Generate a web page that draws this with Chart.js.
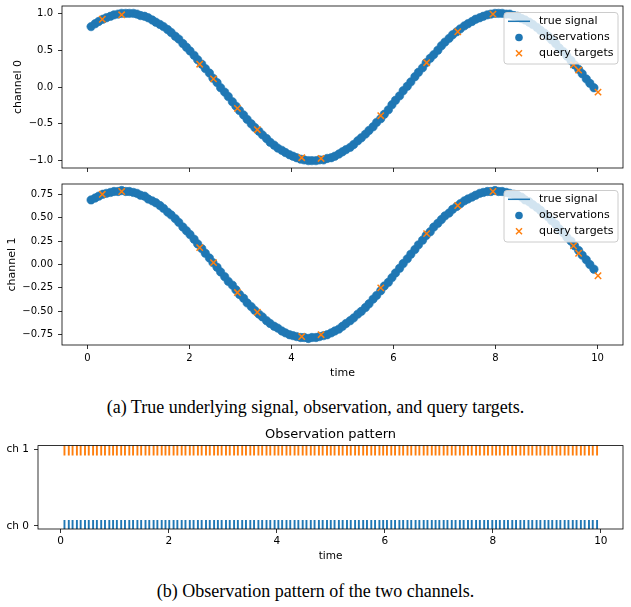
<!DOCTYPE html>
<html>
<head>
<meta charset="utf-8">
<script src="https://cdn.jsdelivr.net/npm/chart.js@4.4.0/dist/chart.umd.min.js"></script>
<style>
  html, body { margin: 0; padding: 0; background: #fff; }
  body { width: 631px; height: 607px; position: relative; overflow: hidden; }
  canvas { position: absolute; left: 0; }
  .cap {
    position: absolute; left: 0; width: 631px; text-align: center;
    font-family: 'Liberation Serif', 'Times New Roman', serif;
    font-size: 18px; line-height: 20px; color: #000;
  }
</style>
</head>
<body>
<canvas id="ch0" width="631" height="175" style="top:0px"></canvas>
<canvas id="ch1" width="631" height="210" style="top:175px"></canvas>
<div class="cap" style="top:397px">(a) True underlying signal, observation, and query targets.</div>
<canvas id="pattern" width="631" height="150" style="top:415px"></canvas>
<div class="cap" style="top:581px">(b) Observation pattern of the two channels.</div>

<script>
'use strict';

//***********Data***********
let obsTimes = [
  0.07, 0.15, 0.22, 0.30, 0.37, 0.45, 0.52, 0.60, 0.67, 0.75,
  0.82, 0.90, 0.97, 1.04, 1.12, 1.19, 1.27, 1.34, 1.42, 1.49,
  1.57, 1.64, 1.72, 1.79, 1.87, 1.94, 2.01, 2.09, 2.16, 2.24,
  2.31, 2.39, 2.46, 2.54, 2.61, 2.69, 2.76, 2.84, 2.91, 2.98,
  3.06, 3.13, 3.21, 3.28, 3.36, 3.43, 3.51, 3.58, 3.66, 3.73,
  3.81, 3.88, 3.96, 4.03, 4.10, 4.18, 4.25, 4.33, 4.40, 4.48,
  4.55, 4.63, 4.70, 4.78, 4.85, 4.93, 5.00, 5.07, 5.15, 5.22,
  5.30, 5.37, 5.45, 5.52, 5.60, 5.67, 5.75, 5.82, 5.90, 5.97,
  6.04, 6.12, 6.19, 6.27, 6.34, 6.42, 6.49, 6.57, 6.64, 6.72,
  6.79, 6.87, 6.94, 7.01, 7.09, 7.16, 7.24, 7.31, 7.39, 7.46,
  7.54, 7.61, 7.69, 7.76, 7.84, 7.91, 7.99, 8.06, 8.13, 8.21,
  8.28, 8.36, 8.43, 8.51, 8.58, 8.66, 8.73, 8.81, 8.88, 8.96,
  9.03, 9.10, 9.18, 9.25, 9.33, 9.40, 9.48, 9.55, 9.63, 9.70,
  9.78, 9.85, 9.93
];
let ch0Values = [
  0.82, 0.86, 0.89, 0.92, 0.94, 0.96, 0.98, 0.99, 1.00, 1.00,
  1.00, 1.00, 0.99, 0.97, 0.96, 0.94, 0.91, 0.88, 0.85, 0.82,
  0.78, 0.74, 0.69, 0.65, 0.59, 0.54, 0.49, 0.43, 0.37, 0.31,
  0.25, 0.19, 0.12, 0.06, -0.01, -0.07, -0.13, -0.20, -0.26, -0.32,
  -0.38, -0.44, -0.50, -0.55, -0.60, -0.65, -0.70, -0.75, -0.79, -0.83,
  -0.86, -0.89, -0.92, -0.94, -0.96, -0.98, -0.99, -1.00, -1.00, -1.00,
  -0.99, -0.99, -0.97, -0.96, -0.94, -0.91, -0.88, -0.85, -0.82, -0.78,
  -0.73, -0.69, -0.64, -0.59, -0.54, -0.48, -0.43, -0.37, -0.31, -0.24,
  -0.18, -0.12, -0.05, 0.01, 0.07, 0.14, 0.20, 0.26, 0.33, 0.39,
  0.44, 0.50, 0.56, 0.61, 0.66, 0.71, 0.75, 0.79, 0.83, 0.86,
  0.89, 0.92, 0.94, 0.96, 0.98, 0.99, 1.00, 1.00, 1.00, 0.99,
  0.99, 0.97, 0.96, 0.93, 0.91, 0.88, 0.85, 0.81, 0.77, 0.73,
  0.69, 0.64, 0.59, 0.53, 0.48, 0.42, 0.36, 0.30, 0.24, 0.18,
  0.11, 0.05, -0.01
];
let ch1Values = [
  0.69, 0.71, 0.73, 0.75, 0.76, 0.77, 0.78, 0.78, 0.79, 0.78,
  0.78, 0.77, 0.76, 0.74, 0.73, 0.70, 0.68, 0.66, 0.63, 0.60,
  0.56, 0.53, 0.49, 0.45, 0.40, 0.36, 0.32, 0.27, 0.22, 0.17,
  0.12, 0.07, 0.02, -0.03, -0.08, -0.13, -0.18, -0.22, -0.27, -0.32,
  -0.36, -0.41, -0.45, -0.49, -0.53, -0.56, -0.60, -0.63, -0.66, -0.68,
  -0.71, -0.73, -0.75, -0.76, -0.77, -0.78, -0.78, -0.79, -0.78, -0.78,
  -0.77, -0.76, -0.75, -0.73, -0.71, -0.69, -0.66, -0.63, -0.60, -0.57,
  -0.53, -0.50, -0.46, -0.42, -0.37, -0.33, -0.28, -0.23, -0.19, -0.14,
  -0.09, -0.04, 0.01, 0.06, 0.11, 0.16, 0.21, 0.26, 0.31, 0.35,
  0.40, 0.44, 0.48, 0.52, 0.55, 0.59, 0.62, 0.65, 0.68, 0.70,
  0.72, 0.74, 0.76, 0.77, 0.78, 0.78, 0.79, 0.78, 0.78, 0.77,
  0.76, 0.75, 0.74, 0.72, 0.69, 0.67, 0.64, 0.61, 0.58, 0.54,
  0.51, 0.47, 0.43, 0.38, 0.34, 0.29, 0.25, 0.20, 0.15, 0.10,
  0.05, 0.00, -0.05
];
let queryTimes = [0.29, 0.67, 2.20, 2.47, 2.94, 3.33, 4.20, 4.58, 5.75, 6.65, 7.26, 7.95, 9.53, 9.63, 10.01];
let query0Values = [0.92, 0.98, 0.31, 0.11, -0.29, -0.58, -0.96, -0.97, -0.39, 0.33, 0.75, 0.99, 0.30, 0.23, -0.07];
let query1Values = [0.75, 0.78, 0.18, 0.02, -0.30, -0.51, -0.77, -0.75, -0.25, 0.33, 0.63, 0.78, 0.20, 0.12, -0.12];

let legendLabels = ['true signal', 'observations', 'query targets'];
let xTicks = [0, 2, 4, 6, 8, 10];
let yTicks0 = [-1.0, -0.5, 0.0, 0.5, 1.0];
let yTicks1 = [-0.75, -0.5, -0.25, 0.0, 0.25, 0.5, 0.75];
let channelRows = [0, 1];
let channelLabels = ['ch 0', 'ch 1'];

//***********Styles***********
const BLUE = '#1f77b4';
const ORANGE = '#ff7f0e';
const FONT = "'DejaVu Sans', sans-serif";

//***********Helpers***********
function minusSign(text) {
  return text.replace('-', '\u2212');
}

function fixedTicks(list) {
  return function (scale) {
    scale.ticks = list.map(v => ({ value: v }));
  };
}

function fixSize(prop, size) {
  return function (scale) {
    scale[prop] = size;
    scale.paddingTop = 0;
    scale.paddingBottom = 0;
    scale.paddingLeft = 0;
    scale.paddingRight = 0;
  };
}

function pairUp(xs, ys) {
  return xs.map((x, i) => ({ x: x, y: ys[i] }));
}

// draw the box round the axes, like matplotlib spines
const frame = {
  id: 'frame',
  afterDatasetsDraw(chart) {
    let a = chart.chartArea;
    let ctx = chart.ctx;
    ctx.save();
    ctx.strokeStyle = '#000';
    ctx.lineWidth = 0.8;
    ctx.strokeRect(a.left, a.top, a.right - a.left, a.bottom - a.top);
    ctx.restore();
  }
};

// legend inside the axes at the top right
const innerLegend = {
  id: 'innerLegend',
  afterDraw(chart, args, opts) {
    if (!opts.show) return;
    let a = chart.chartArea;
    let ctx = chart.ctx;
    let x0 = a.right - 119;
    let y0 = a.top + 6.5;
    ctx.save();
    ctx.fillStyle = 'rgba(255,255,255,0.8)';
    ctx.strokeStyle = '#cccccc';
    ctx.lineWidth = 1;
    ctx.beginPath();
    ctx.roundRect(x0, y0, 114, 51.5, 3);
    ctx.fill();
    ctx.stroke();

    let rows = [a.top + 15.3, a.top + 31.5, a.top + 47.3];
    let hx = x0 + 15;
    // line handle
    ctx.strokeStyle = BLUE;
    ctx.lineWidth = 1.5;
    ctx.beginPath();
    ctx.moveTo(x0 + 4, rows[0]);
    ctx.lineTo(x0 + 26, rows[0]);
    ctx.stroke();
    // dot handle
    ctx.fillStyle = BLUE;
    ctx.beginPath();
    ctx.arc(hx, rows[1], 3.8, 0, Math.PI * 2);
    ctx.fill();
    // x handle
    ctx.strokeStyle = ORANGE;
    ctx.beginPath();
    ctx.moveTo(hx - 3, rows[2] - 3);
    ctx.lineTo(hx + 3, rows[2] + 3);
    ctx.moveTo(hx - 3, rows[2] + 3);
    ctx.lineTo(hx + 3, rows[2] - 3);
    ctx.stroke();

    ctx.fillStyle = '#000';
    ctx.font = '11px ' + FONT;
    ctx.textBaseline = 'middle';
    ctx.textAlign = 'left';
    chart.data.datasets.slice().sort((p, q) => q.order - p.order).forEach((ds, i) => {
      ctx.fillText(ds.label, x0 + 35, rows[i]);
    });
    ctx.restore();
  }
};

//***********Signal charts***********
function signalChart(id, values, qValues, yTicks, yRange, yLabel, opts) {
  let ctx = document.getElementById(id).getContext('2d');
  return new Chart(ctx, {
    type: 'scatter',
    data: {
      datasets: [
        {
          label: legendLabels[2],
          order: 0,
          data: pairUp(queryTimes, qValues),
          pointStyle: 'crossRot',
          pointRadius: 4.5,
          borderColor: ORANGE,
          borderWidth: 1.5,
          backgroundColor: ORANGE
        },
        {
          label: legendLabels[1],
          order: 1,
          data: pairUp(obsTimes, values),
          pointStyle: 'circle',
          pointRadius: 4.2,
          borderWidth: 0.6,
          borderColor: BLUE,
          backgroundColor: BLUE
        },
        {
          label: legendLabels[0],
          order: 2,
          type: 'line',
          data: pairUp(obsTimes, values),
          showLine: true,
          pointRadius: 0,
          borderColor: BLUE,
          borderWidth: 1.5,
          tension: 0
        }
      ]
    },
    options: {
      responsive: false,
      animation: false,
      events: [],
      layout: { padding: { top: opts.padTop, right: 8, left: 0, bottom: 0 } },
      plugins: {
        legend: { display: false },
        tooltip: { enabled: false },
        innerLegend: { show: true }
      },
      scales: {
        x: {
          type: 'linear',
          min: -0.5,
          max: 10.5,
          afterBuildTicks: fixedTicks(xTicks),
          afterFit: fixSize('height', opts.xHeight),
          grid: { drawOnChartArea: false, drawTicks: true, tickLength: 4, color: '#000', lineWidth: 0.8 },
          border: { display: false },
          ticks: {
            display: opts.showX,
            padding: 3,
            color: '#000',
            font: { family: FONT, size: 10 },
            callback: v => minusSign(v.toFixed(0))
          },
          title: {
            display: opts.showX,
            text: 'time',
            color: '#000',
            font: { family: FONT, size: 11 },
            padding: { top: 0, bottom: 5.4 }
          }
        },
        y: {
          type: 'linear',
          min: -yRange,
          max: yRange,
          afterBuildTicks: fixedTicks(yTicks),
          afterFit: fixSize('width', 62),
          grid: { drawOnChartArea: false, drawTicks: true, tickLength: 4, color: '#000', lineWidth: 0.8 },
          border: { display: false },
          ticks: {
            padding: 5,
            color: '#000',
            font: { family: FONT, size: 10 },
            callback: v => minusSign(v.toFixed(opts.digits))
          },
          title: {
            display: true,
            text: yLabel,
            color: '#000',
            font: { family: FONT, size: 11 },
            padding: { top: opts.titlePad, bottom: 0 }
          }
        }
      }
    },
    plugins: [frame, innerLegend]
  });
}

signalChart('ch0', ch0Values, query0Values, yTicks0, 1.1, 'channel 0',
  { padTop: 6, xHeight: 7, showX: false, digits: 1, titlePad: 11.7 });
signalChart('ch1', ch1Values, query1Values, yTicks1, 0.86, 'channel 1',
  { padTop: 9, xHeight: 40, showX: true, digits: 2, titlePad: 5.1 });

//***********Observation pattern***********
let patternCtx = document.getElementById('pattern').getContext('2d');
new Chart(patternCtx, {
  type: 'scatter',
  data: {
    datasets: channelRows.map((row, k) => ({
      label: channelLabels[k],
      data: obsTimes.map(t => ({ x: t, y: row })),
      pointStyle: 'line',
      rotation: 90,
      pointRadius: 6,
      borderColor: k === 0 ? BLUE : ORANGE,
      borderWidth: 1.9,
      clip: 0
    }))
  },
  options: {
    responsive: false,
    animation: false,
    events: [],
    layout: { padding: { top: 0, right: 8, left: 0, bottom: 0 } },
    plugins: {
      legend: { display: false },
      tooltip: { enabled: false },
      title: {
        display: true,
        text: 'Observation pattern',
        fullSize: false,
        color: '#000',
        font: { family: FONT, size: 13, weight: 'normal' },
        padding: { top: 12, bottom: 3 }
      }
    },
    scales: {
      x: {
        type: 'linear',
        min: -0.42,
        max: 10.41,
        afterBuildTicks: fixedTicks(xTicks),
        afterFit: fixSize('height', 36),
        grid: { drawOnChartArea: false, drawTicks: true, tickLength: 4, color: '#000', lineWidth: 0.8 },
        border: { display: false },
        ticks: {
          padding: 2.4,
          color: '#000',
          font: { family: FONT, size: 10.5 },
          callback: v => v.toFixed(0)
        },
        title: {
          display: true,
          text: 'time',
          color: '#000',
          font: { family: FONT, size: 10.5 },
          padding: { top: 0, bottom: 2 }
        }
      },
      y: {
        type: 'linear',
        min: -0.04,
        max: 1.05,
        afterBuildTicks: fixedTicks(channelRows),
        afterFit: fixSize('width', 38),
        grid: { drawOnChartArea: false, drawTicks: true, tickLength: 4, color: '#000', lineWidth: 0.8 },
        border: { display: false },
        ticks: {
          padding: 5,
          color: '#000',
          font: { family: FONT, size: 10.5 },
          callback: v => channelLabels[channelRows.indexOf(v)]
        }
      }
    }
  },
  plugins: [frame]
});
</script>
</body>
</html>
